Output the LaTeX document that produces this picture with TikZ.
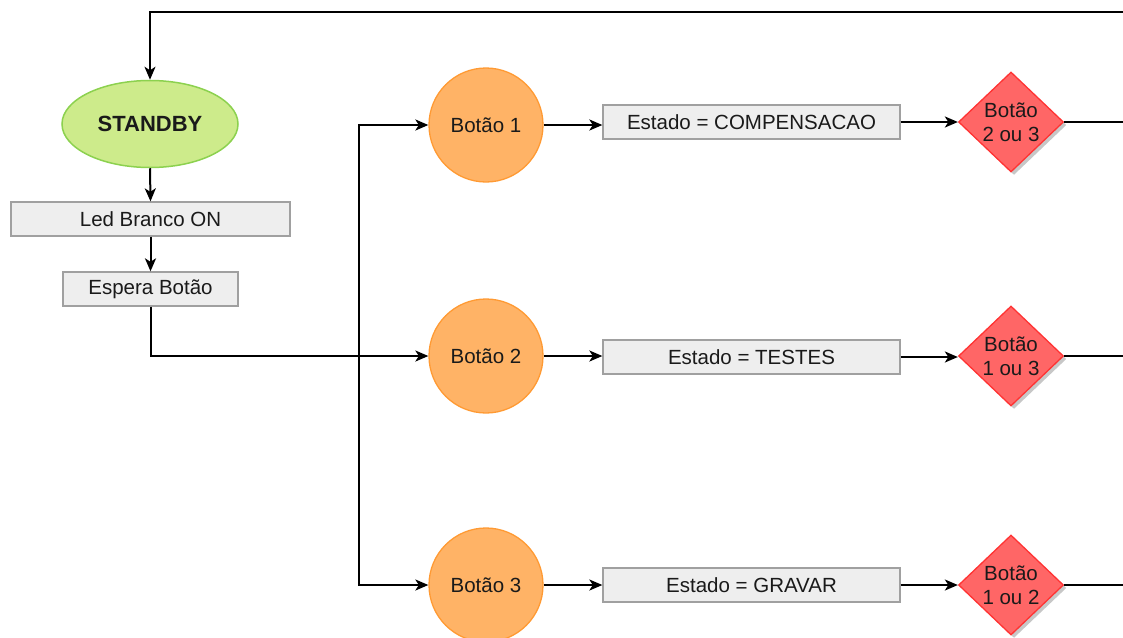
\documentclass[tikz,border=0pt]{standalone}
\usepackage{fontspec}
\setmainfont{Liberation Sans}
\usetikzlibrary{arrows.meta,shapes.geometric,shadows}
\definecolor{grnfill}{HTML}{CDEB8B}
\definecolor{grnline}{HTML}{8CD14F}
\definecolor{orfill}{HTML}{FFB366}
\definecolor{orline}{HTML}{FF9A33}
\definecolor{boxfill}{HTML}{EEEEEE}
\definecolor{boxline}{HTML}{A0A0A0}
\definecolor{redfill}{HTML}{FF6666}
\definecolor{redline}{HTML}{FF3333}
\definecolor{txt}{HTML}{1A1A1A}
\tikzset{
  base/.style={font=\fontsize{20.5}{24}\selectfont, text=txt, inner sep=0pt},
  startnode/.style={base, ellipse, fill=grnfill, draw=grnline, line width=1.5pt, minimum width=176pt, minimum height=87pt, font=\fontsize{22}{26}\selectfont\bfseries},
  stepbox/.style={base, rectangle, fill=boxfill, draw=boxline, line width=1.3pt, minimum height=34pt},
  btn/.style={base, circle, fill=orfill, draw=orline, line width=1.3pt, minimum size=114pt},
  choice/.style={base, diamond, fill=redfill, draw=redline, line width=1.3pt, minimum width=105pt, minimum height=100pt, aspect=1.05,
     drop shadow={shadow xshift=3pt, shadow yshift=-3pt, fill=black!22, opacity=1}},
  dlabel/.style={base, align=center},
  arr/.style={line width=2pt, -{Stealth[length=13pt,width=11pt,inset=3.5pt]}},
  ln/.style={line width=2pt}
}
\begin{document}
\begin{tikzpicture}[x=1pt,y=-1pt]
\useasboundingbox (0,0) rectangle (1123,637);
\node[startnode] (standby) at (150,124) {STANDBY};
\node[stepbox, minimum width=279pt] (led) at (150.5,219) {Led Branco ON};
\node[stepbox, minimum width=175pt] (espera) at (150.5,289) {Espera Botão};

\node[btn] (b1) at (486,125) {Botão 1};
\node[btn] (b2) at (486,356) {Botão 2};
\node[btn] (b3) at (486,585) {Botão 3};

\node[stepbox, minimum width=297pt] (e1) at (751.5,122) {Estado = COMPENSACAO};
\node[stepbox, minimum width=297pt] (e2) at (751.5,357) {Estado = TESTES};
\node[stepbox, minimum width=297pt] (e3) at (751.5,585) {Estado = GRAVAR};

\node[choice] (d1) at (1011,122) {};
\node[dlabel] (t1) at (d1.center) {Botão\\2 ou 3};
\node[choice] (d2) at (1011,356) {};
\node[dlabel] (t2) at (d2.center) {Botão\\1 ou 3};
\node[choice] (d3) at (1011,585) {};
\node[dlabel] (t3) at (d3.center) {Botão\\1 ou 2};

\coordinate (topR) at (1123,12);
\coordinate (jm) at (359,356);
\coordinate (rightedge) at (1123,0);

\draw[arr] (topR) -| (standby.north);
\draw[arr] (standby.south) -- (led.north);
\draw[arr] (led.south) -- (espera.north);
\draw[arr] (espera.south) |- (b2.west);
\draw[arr] (jm) |- (b1.west);
\draw[arr] (jm) |- (b3.west);

\draw[arr] (b1.east) -- (e1.west |- b1.east);
\draw[arr] (b2.east) -- (e2.west |- b2.east);
\draw[arr] (b3.east) -- (e3.west |- b3.east);

\draw[arr] (e1.east) -- (d1.west |- e1.east);
\draw[arr] (e2.east) -- (d2.west |- e2.east);
\draw[arr] (e3.east) -- (d3.west |- e3.east);

\draw[ln] (d1.east) -- (d1.east -| rightedge);
\draw[ln] (d2.east) -- (d2.east -| rightedge);
\draw[ln] (d3.east) -- (d3.east -| rightedge);
\end{tikzpicture}
\end{document}
